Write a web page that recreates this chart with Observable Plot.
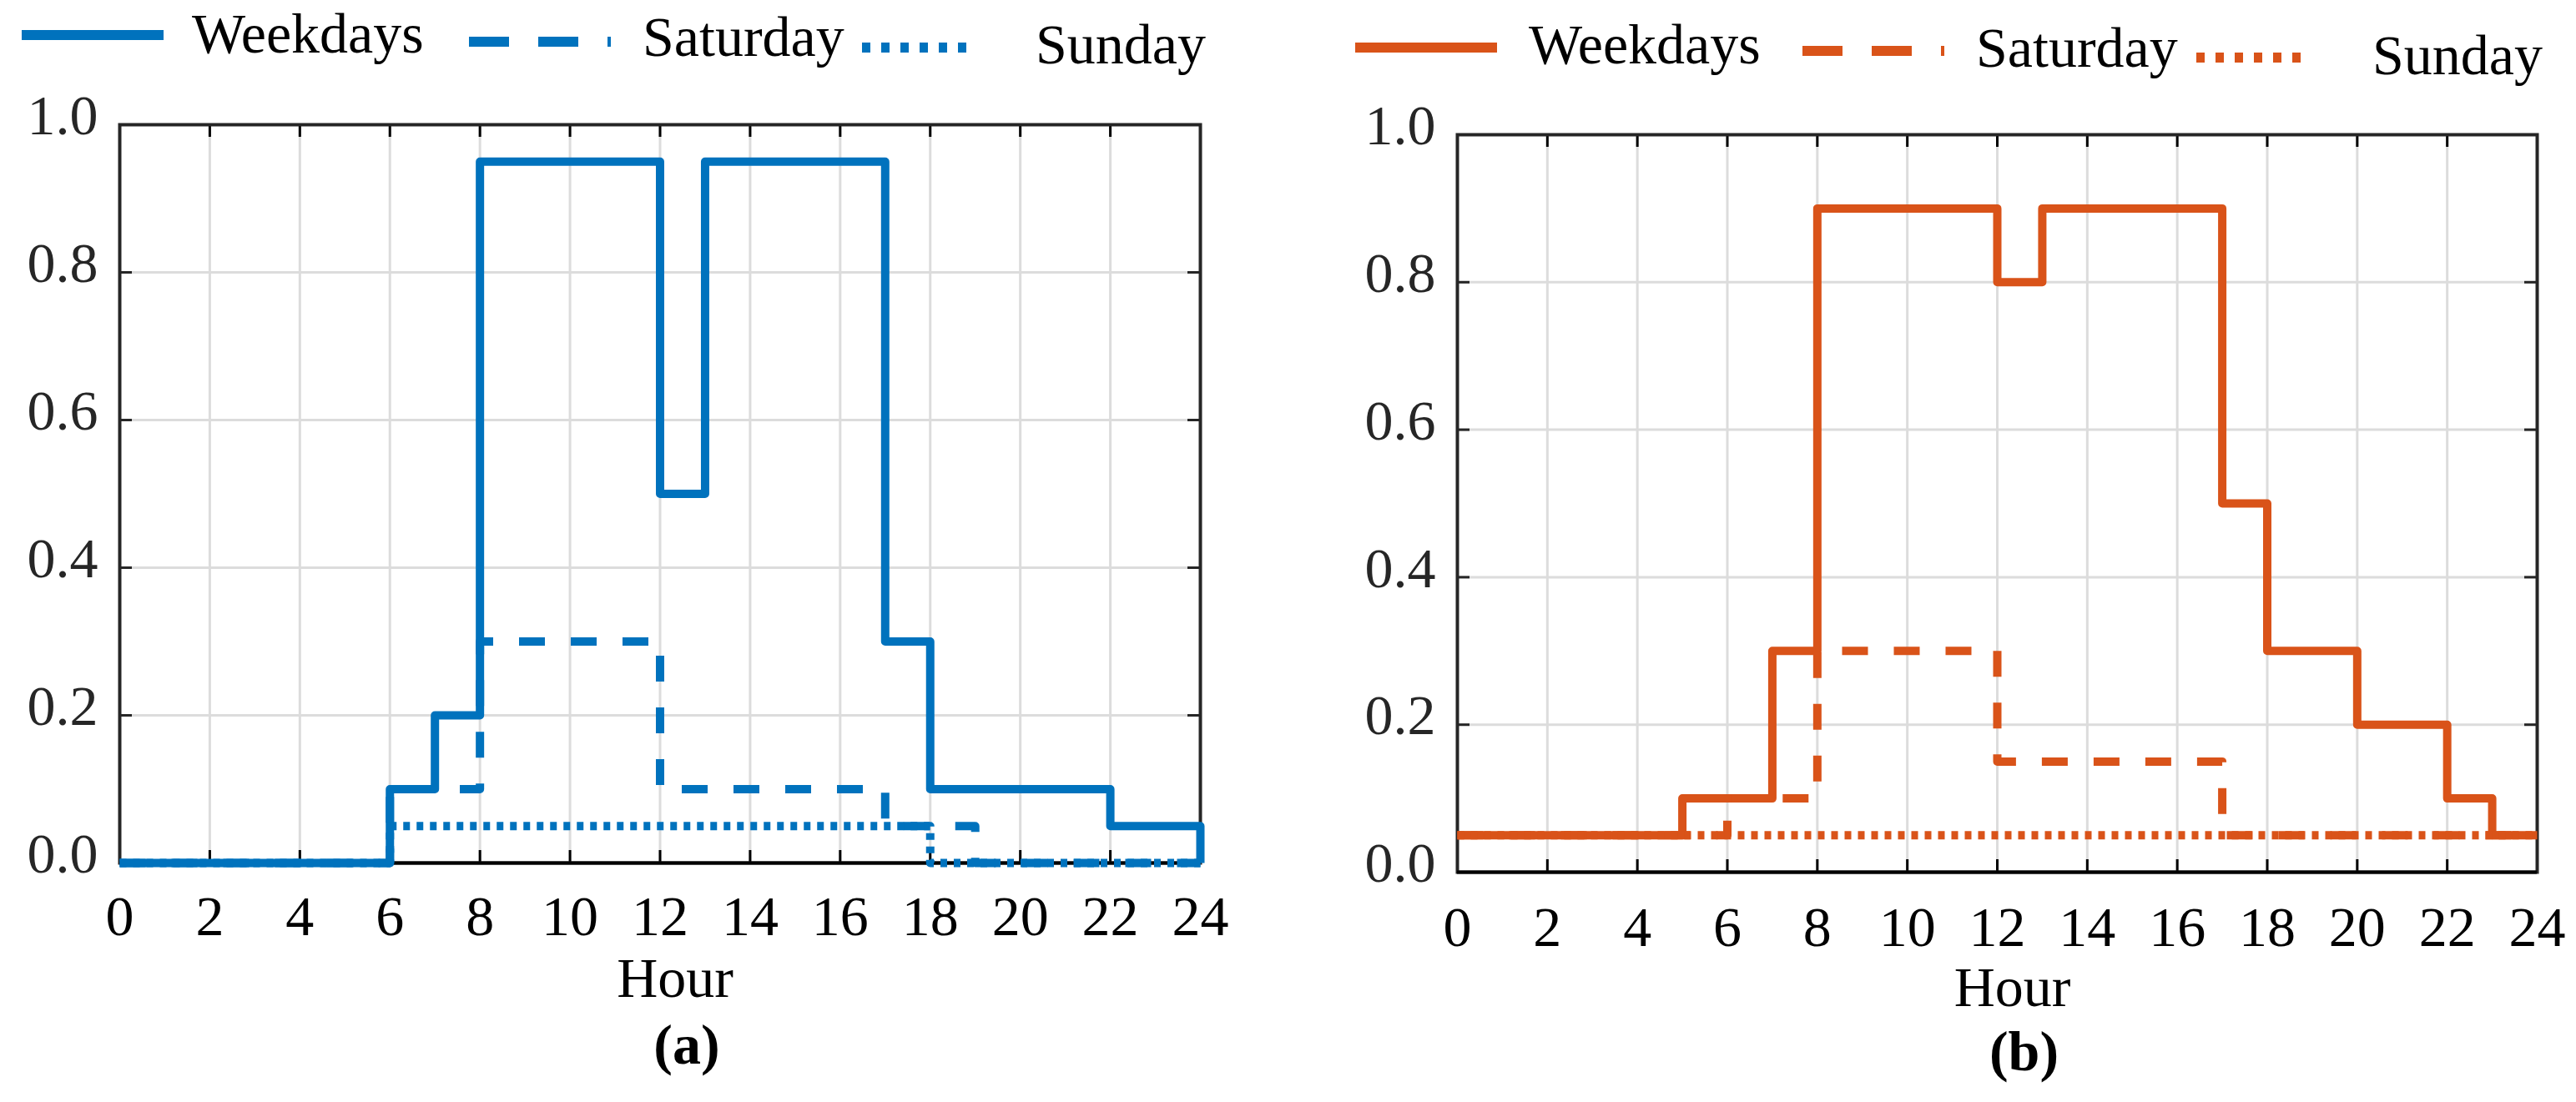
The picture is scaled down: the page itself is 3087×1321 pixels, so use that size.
<!DOCTYPE html>
<html>
<head>
<meta charset="utf-8">
<script src="https://cdn.jsdelivr.net/npm/d3@7"></script>
<script src="https://cdn.jsdelivr.net/npm/@observablehq/plot@0.6"></script>
<style>
  html, body { margin: 0; padding: 0; background: #fff; }
  #fig { position: relative; width: 3087px; height: 1321px; background: #fff; overflow: hidden; }
  #fig > svg, #fig > div { position: absolute; }
</style>
</head>
<body>
<div id="fig"></div>
<script>
// ---------- data ----------
const xTicks = [0, 2, 4, 6, 8, 10, 12, 14, 16, 18, 20, 22, 24];
const yTicks = [0, 0.2, 0.4, 0.6, 0.8, 1.0];
const seriesNames = ["Weekdays", "Saturday", "Sunday"];

// panel (a)
const aWeekdayHours  = [0, 6, 7, 8, 12, 13, 17, 18, 22, 24];
const aWeekdayValues = [0, 0.1, 0.2, 0.95, 0.5, 0.95, 0.3, 0.1, 0.05, 0];
const aSaturdayHours  = [0, 6, 8, 12, 17, 19, 24];
const aSaturdayValues = [0, 0.1, 0.3, 0.1, 0.05, 0, 0];
const aSundayHours  = [0, 6, 18, 24];
const aSundayValues = [0, 0.05, 0, 0];

// panel (b)
const bWeekdayHours  = [0, 5, 7, 8, 12, 13, 17, 18, 20, 22, 23, 24];
const bWeekdayValues = [0.05, 0.1, 0.3, 0.9, 0.8, 0.9, 0.5, 0.3, 0.2, 0.1, 0.05, 0.05];
const bSaturdayHours  = [0, 6, 8, 12, 17, 24];
const bSaturdayValues = [0.05, 0.1, 0.3, 0.15, 0.05, 0.05];
const bSundayHours  = [0, 24];
const bSundayValues = [0.05, 0.05];

// ---------- styles ----------
const BLUE = "#0072BD", ORANGE = "#D95319";
const FONT = "'Liberation Serif', 'DejaVu Serif', serif";
const FS = 68;
const dashStyles = {Weekdays: null, Saturday: "31,31", Sunday: "8,8"};
const legendDash = {Weekdays: null, Saturday: "48,35", Sunday: "10,13"};

function table(hours, values) { return hours.map((h, i) => ({hour: h, value: values[i]})); }

function panel({series, color, width, marginLeft, marginRight, marginTop, marginBottom, xPad, tag, tagDy}) {
  const height = 1321;
  const plotW = width - marginLeft - marginRight;
  const plotH = height - marginTop - marginBottom;
  const lines = series.map((s, i) => Plot.line(table(s.hours, s.values), {
    x: "hour", y: "value", curve: "step-after",
    stroke: color, strokeWidth: 10, strokeLinejoin: "round", strokeLinecap: "butt",
    strokeDasharray: dashStyles[seriesNames[i]] || undefined
  }));
  return Plot.plot({
    width, height, marginLeft, marginRight, marginTop, marginBottom,
    style: {fontFamily: FONT, background: "transparent", overflow: "visible"},
    x: {domain: [0, 24]},
    y: {domain: [0, 1]},
    marks: [
      Plot.ruleX(xTicks, {stroke: "#dcdcdc", strokeWidth: 3}),
      Plot.ruleY(yTicks, {stroke: "#dcdcdc", strokeWidth: 3}),
      Plot.tickX(xTicks, {x: d => d, insetTop: plotH - 15, stroke: "#000", strokeWidth: 3}),
      Plot.tickX(xTicks, {x: d => d, insetBottom: plotH - 15, stroke: "#000", strokeWidth: 3}),
      Plot.tickY(yTicks, {y: d => d, insetRight: plotW - 15, stroke: "#262626", strokeWidth: 3}),
      Plot.tickY(yTicks, {y: d => d, insetLeft: plotW - 15, stroke: "#262626", strokeWidth: 3}),
      Plot.frame({stroke: "#262626", strokeWidth: 4}),
      Plot.ruleY([0], {stroke: "#000", strokeWidth: 4}),
      ...lines,
      Plot.axisX({ticks: xTicks, tickSize: 0, tickPadding: xPad, fontSize: FS, label: null, fill: "#000"}),
      Plot.axisY({ticks: yTicks, tickSize: 0, tickPadding: 26, fontSize: FS, label: null, fill: "#262626",
                  tickFormat: d3.format(".1f"), dy: -10}),
      Plot.text(["Hour"], {text: d => d, frameAnchor: "bottom", dy: 160, dx: 18, fontSize: FS, fill: "#000"}),
      Plot.text([tag], {text: d => d, frameAnchor: "bottom", dy: tagDy, dx: 32, fontSize: FS, fontWeight: "bold", fill: "#000"})
    ]
  });
}

const fig = document.getElementById("fig");

const plotA = panel({
  series: [
    {hours: aWeekdayHours, values: aWeekdayValues},
    {hours: aSaturdayHours, values: aSaturdayValues},
    {hours: aSundayHours, values: aSundayValues}
  ],
  color: BLUE, width: 1540, marginLeft: 143, marginRight: 102, marginTop: 149, marginBottom: 287,
  xPad: 38, tag: "(a)", tagDy: 240
});
plotA.style.left = "0px"; plotA.style.top = "0px";
fig.appendChild(plotA);

const plotB = panel({
  series: [
    {hours: bWeekdayHours, values: bWeekdayValues},
    {hours: bSaturdayHours, values: bSaturdayValues},
    {hours: bSundayHours, values: bSundayValues}
  ],
  color: ORANGE, width: 1547, marginLeft: 206, marginRight: 47, marginTop: 161, marginBottom: 276,
  xPad: 40, tag: "(b)", tagDy: 237
});
plotB.style.left = "1540px"; plotB.style.top = "0px";
fig.appendChild(plotB);

// ---------- legends ----------
const legendItems = {
  a: {color: BLUE, items: [
    {name: "Weekdays", x1: 26, x2: 196, y: 42, tx: 230, ty: 63},
    {name: "Saturday", x1: 562, x2: 732, y: 50, tx: 770, ty: 67},
    {name: "Sunday",   x1: 1033, x2: 1163, y: 57, tx: 1241, ty: 76}
  ]},
  b: {color: ORANGE, items: [
    {name: "Weekdays", x1: 1624, x2: 1794, y: 57, tx: 1832, ty: 76},
    {name: "Saturday", x1: 2160, x2: 2330, y: 61, tx: 2368, ty: 80},
    {name: "Sunday",   x1: 2632, x2: 2764, y: 69, tx: 2843, ty: 89}
  ]}
};
const leg = d3.select(fig).append("svg")
  .attr("width", 3087).attr("height", 140)
  .style("left", "0px").style("top", "0px");
for (const key of ["a", "b"]) {
  const {color, items} = legendItems[key];
  for (const it of items) {
    leg.append("line").attr("x1", it.x1).attr("x2", it.x2).attr("y1", it.y).attr("y2", it.y)
      .attr("stroke", color).attr("stroke-width", 12)
      .attr("stroke-dasharray", legendDash[it.name] || null);
    leg.append("text").attr("x", it.tx).attr("y", it.ty)
      .attr("font-family", FONT).attr("font-size", FS).attr("fill", "#000")
      .text(it.name);
  }
}
</script>
</body>
</html>
